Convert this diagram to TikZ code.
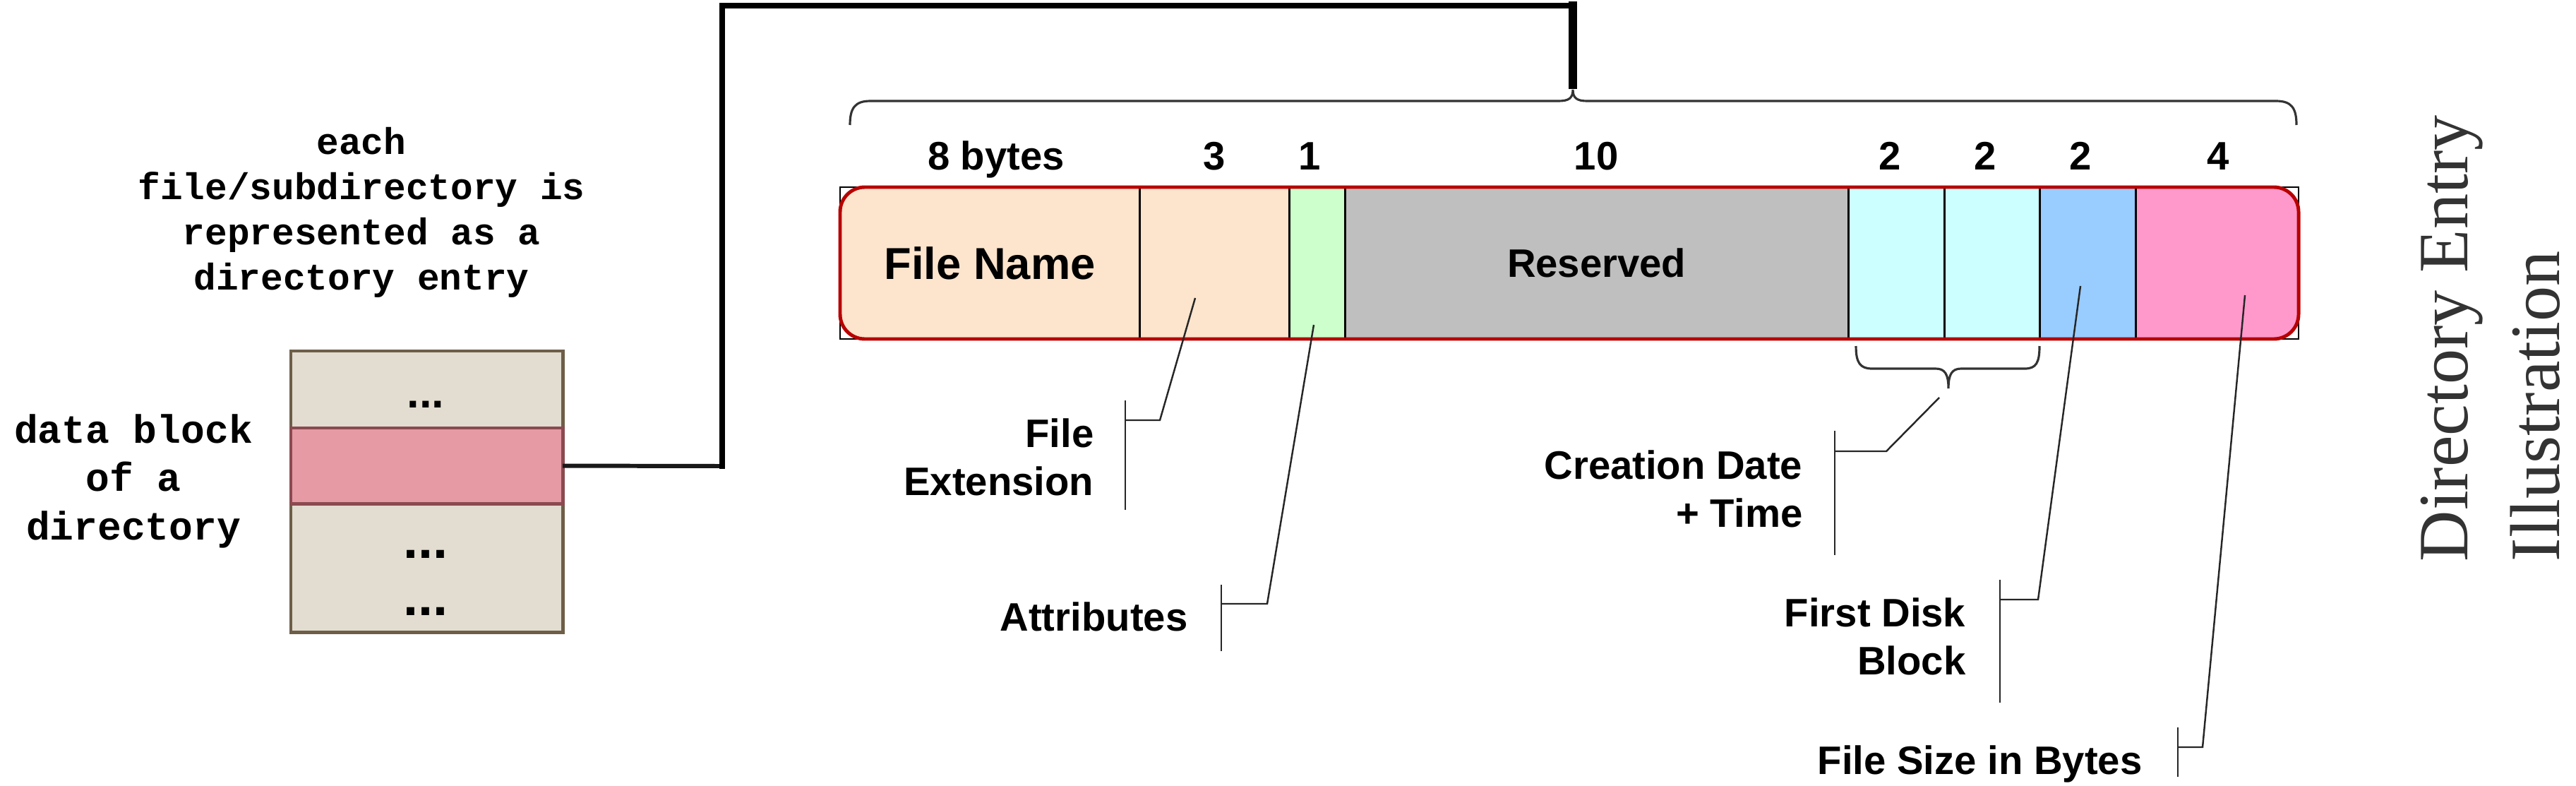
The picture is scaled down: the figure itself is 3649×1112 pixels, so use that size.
\documentclass[tikz,border=0pt]{standalone}
\usepackage{fontspec}
\setmainfont{Liberation Sans}
\newfontfamily\monofont{Liberation Mono}
\newfontfamily\titlefont{Liberation Serif}
\definecolor{peach}{HTML}{FCE4CD}
\definecolor{attrgreen}{HTML}{CCFFCC}
\definecolor{resgray}{HTML}{BFBFBF}
\definecolor{datecyan}{HTML}{CCFFFF}
\definecolor{blkblue}{HTML}{99CCFF}
\definecolor{sizepink}{HTML}{FF99CC}
\definecolor{barred}{HTML}{B80000}
\definecolor{beige}{HTML}{E2DDD0}
\definecolor{beigeedge}{HTML}{6E5E48}
\definecolor{rowpink}{HTML}{E59AA4}
\definecolor{rowedge}{HTML}{8B4A50}
\definecolor{titlegray}{HTML}{333333}
\tikzset{
  cell/.style={rectangle, anchor=north west, inner sep=0pt, outer sep=0pt, minimum height=2.15cm},
  divider/.style={line width=0.85pt, black},
  callout/.style={line width=0.7pt, black!85},
  brace/.style={line width=0.9pt, black!80},
  lbl/.style={inner sep=0pt, font=\bfseries\fontsize{16}{19.6}\selectfont},
  sizelbl/.style={lbl, anchor=base},
  calllbl/.style={lbl, anchor=base east},
  blockrow/.style={rectangle, anchor=north west, inner sep=0pt, outer sep=0pt, minimum width=3.85cm, fill=beige, draw=beigeedge, line width=1.4pt},
  dotsbox/.style={inner sep=0pt},
  mono/.style={inner sep=0pt, anchor=base},
}
\begin{document}
\begin{tikzpicture}[x=0.01cm, y=-0.01cm]
\useasboundingbox (0,0) rectangle (3649,1112);

% ---- left captions
\node[mono, font=\monofont\bfseries\fontsize{15}{18.2}\selectfont] (caption) at (512,218)
  {\begin{tabular}[t]{@{}c@{}}each\\file/subdirectory is\\represented as a\\directory entry\end{tabular}};
\node[mono, font=\monofont\bfseries\fontsize{16}{19.6}\selectfont] (dblabel) at (189,627)
  {\begin{tabular}[t]{@{}c@{}}data block\\of a\\directory\end{tabular}};

% ---- data block
\node[blockrow, minimum height=1.09cm] (row1) at (412,497) {};
\node[blockrow, minimum height=1.82cm] (row3) at (412,713) {};
\node[blockrow, minimum height=1.07cm, fill=rowpink, draw=rowedge] (row2) at (412,606) {};
\node[dotsbox, font=\bfseries\fontsize{18}{20}\selectfont] (dots1) at (603,573) {...};
\node[dotsbox, font=\bfseries\fontsize{21.5}{24}\selectfont] (dots2) at (603,785) {...};
\node[dotsbox, font=\bfseries\fontsize{21.5}{24}\selectfont] (dots3) at (603,866) {...};

% ---- connector from block to entry
\coordinate (c1) at (1023,660);
\coordinate (c2) at (1023,8);
\coordinate (c3) at (2228,8);
\coordinate (bracetip) at (2228,120);
\draw[line width=1.7pt, black!90] (row2.east) -- (c1);
\draw[line width=2.4pt, line cap=rect, line join=miter] (c1) -- (c2) -- (c3);
\draw[line width=3.4pt, line cap=rect] (c3) -- (bracetip);

% ---- directory entry bar
\draw[line width=0.6pt] (1190,265) rectangle (3256,480);
\begin{scope}
  \clip[rounded corners=0.35cm] (1190,265) rectangle (3256,480);
  \node[cell, fill=peach, minimum width=4.24cm, font=\bfseries\fontsize{18}{20}\selectfont] (fname) at (1190,265) {File Name};
  \node[cell, fill=peach, minimum width=2.12cm] (ext) at (1614,265) {};
  \node[cell, fill=attrgreen, minimum width=0.79cm] (attr) at (1826,265) {};
  \node[cell, fill=resgray, minimum width=7.13cm, font=\bfseries\fontsize{16}{20}\selectfont] (res) at (1905,265) {Reserved};
  \node[cell, fill=datecyan, minimum width=1.36cm] (date) at (2618,265) {};
  \node[cell, fill=datecyan, minimum width=1.35cm] (time) at (2754,265) {};
  \node[cell, fill=blkblue, minimum width=1.36cm] (blk) at (2889,265) {};
  \node[cell, fill=sizepink, minimum width=2.31cm] (size) at (3025,265) {};
  \foreach \c in {fname,ext,attr,res,date,time,blk}
    \draw[divider] (\c.north east) -- (\c.south east);
\end{scope}
\draw[barred, line width=1.4pt, rounded corners=0.35cm] (1190,265) rectangle (3256,480);

% ---- sizes
\node[sizelbl] (s8) at (1411,240) {8 bytes};
\node[sizelbl] (s3) at (1720,240) {3};
\node[sizelbl] (s1) at (1855,240) {1};
\node[sizelbl] (s10) at (2261,240) {10};
\node[sizelbl] (s2a) at (2677,240) {2};
\node[sizelbl] (s2b) at (2812,240) {2};
\node[sizelbl] (s2c) at (2947,240) {2};
\node[sizelbl] (s4) at (3142,240) {4};

% ---- braces
\draw[brace] (1204,177) .. controls (1204,153) and (1211,143) .. (1233,143) -- (2208,143)
  .. controls (2222,143) and (2228,139) .. (2228,127)
  .. controls (2228,139) and (2234,143) .. (2248,143) -- (3224,143)
  .. controls (3246,143) and (3253,153) .. (3253,177);
\draw[brace] (2629,490) .. controls (2629,514) and (2635,522) .. (2652,522) -- (2742,522)
  .. controls (2755,522) and (2760,530) .. (2760,550)
  .. controls (2760,530) and (2765,522) .. (2778,522) -- (2868,522)
  .. controls (2884,522) and (2889,514) .. (2889,490);

% ---- callouts
% File Extension
\coordinate (extp) at (1693,422);
\coordinate (extb) at (1643,595);
\coordinate (extk) at (1594,595);
\coordinate (extt) at (1594,567);
\coordinate (extd) at (1594,722);
\draw[callout] (extp) -- (extb) -- (extk);
\draw[callout] (extt) -- (extd);
\node[calllbl] (extlbl) at (1550,633) {\begin{tabular}[t]{@{}r@{}}File\\Extension\end{tabular}};
% Attributes
\coordinate (attp) at (1861,460);
\coordinate (attb) at (1795,855);
\coordinate (attk) at (1730,855);
\coordinate (attt) at (1730,828);
\coordinate (attd) at (1730,922);
\draw[callout] (attp) -- (attb) -- (attk);
\draw[callout] (attt) -- (attd);
\node[calllbl] (attlbl) at (1683,893) {Attributes};
% Creation Date + Time
\coordinate (crp) at (2747,563);
\coordinate (crb) at (2672,639);
\coordinate (crk) at (2599,639);
\coordinate (crt) at (2599,610);
\coordinate (crd) at (2599,786);
\draw[callout] (crp) -- (crb) -- (crk);
\draw[callout] (crt) -- (crd);
\node[calllbl] (crlbl) at (2554,678) {\begin{tabular}[t]{@{}r@{}}Creation Date\\+ Time\end{tabular}};
% First Disk Block
\coordinate (fbp) at (2947,405);
\coordinate (fbb) at (2887,849);
\coordinate (fbk) at (2833,849);
\coordinate (fbt) at (2833,821);
\coordinate (fbd) at (2833,995);
\draw[callout] (fbp) -- (fbb) -- (fbk);
\draw[callout] (fbt) -- (fbd);
\node[calllbl] (fblbl) at (2785,887) {\begin{tabular}[t]{@{}r@{}}First Disk\\Block\end{tabular}};
% File Size in Bytes
\coordinate (fsp) at (3180,418);
\coordinate (fsb) at (3120,1058);
\coordinate (fsk) at (3085,1058);
\coordinate (fst) at (3085,1030);
\coordinate (fsd) at (3085,1100);
\draw[callout] (fsp) -- (fsb) -- (fsk);
\draw[callout] (fst) -- (fsd);
\node[calllbl] (fslbl) at (3035,1096) {File Size in Bytes};

% ---- title
\node[rotate=90, anchor=base west, inner sep=0pt, text=titlegray,
      font=\titlefont\fontsize{28.5}{37}\selectfont] (title) at (3495,796)
  {\begin{tabular}[t]{@{}l@{}}Directory Entry\\Illustration\end{tabular}};
\end{tikzpicture}
\end{document}
